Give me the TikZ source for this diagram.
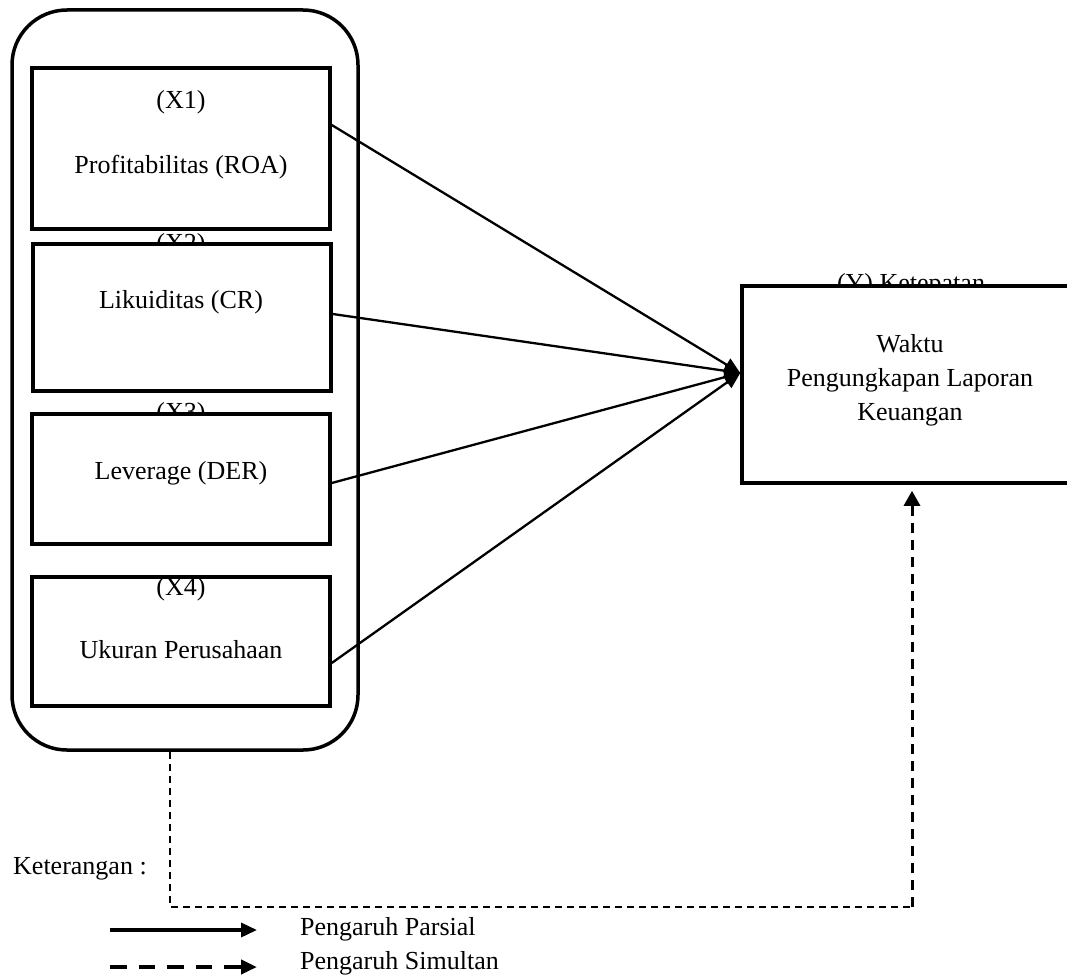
\documentclass[tikz,border=0pt]{standalone}
\usepackage{fontspec}
\setmainfont{Liberation Serif}
\usetikzlibrary{arrows.meta,calc}
\begin{document}
\begin{tikzpicture}[x=1pt,y=-1pt,
  box/.style={draw,line width=3.5pt,fill=white,inner sep=0pt},
  lbl/.style={inner sep=0pt,font=\fontsize{26}{35}\selectfont,align=center},
  partial/.style={line width=2.3pt,-{Triangle[length=16pt,width=14pt]}},
  simthin/.style={line width=1.5pt,dash pattern=on 7pt off 5pt},
  simthick/.style={line width=3pt,dash pattern=on 10pt off 7pt,-{Triangle[length=15pt,width=16pt]}}]
\useasboundingbox (0,0) rectangle (1067,974);
% outer group
\node[draw,line width=3.5pt,rounded corners=55pt,inner sep=0pt,minimum width=346pt,minimum height=740pt] (grp) at (185,380) {};
% labels hidden partly behind boxes
\node[lbl] (lx2) at (181,245) {(X2)};
\node[lbl] (lx3) at (181,414) {(X3)};
\node[lbl] (ly) at (911,285) {(Y) Ketepatan};
% boxes
\node[box,minimum width=298pt,minimum height=161pt] (x1) at (181,148.5) {};
\node[box,minimum width=298pt,minimum height=147pt] (x2) at (182,317.5) {};
\node[box,minimum width=298pt,minimum height=130pt] (x3) at (181,479) {};
\node[box,minimum width=298pt,minimum height=129pt] (x4) at (181,641.5) {};
\node[box,minimum width=336pt,minimum height=197pt] (yb) at (910,384.5) {};
% texts
\node[lbl] (lx1) at (181,102) {(X1)};
\node[lbl] (t1) at (181,167) {Profitabilitas (ROA)};
\node[lbl] (t2) at (181,302) {Likuiditas (CR)};
\node[lbl] (t3) at (181,473) {Leverage (DER)};
\node[lbl] (lx4) at (181,589) {(X4)};
\node[lbl] (t4) at (181,650) {Ukuran Perusahaan};
\node[lbl] (ty1) at (910,344) {Waktu};
\node[lbl] (ty2) at (910,380) {Pengungkapan Laporan};
\node[lbl] (ty3) at (910,415) {Keuangan};
% partial arrows
\coordinate (tip) at ([yshift=11.5pt]yb.west);
\draw[partial] ([yshift=23.5pt]x1.east) -- (tip);
\draw[partial] ([yshift=3.5pt]x2.east) -- (tip);
\draw[partial] ([yshift=-4pt]x3.east) -- (tip);
\draw[partial] ([yshift=-21.5pt]x4.east) -- (tip);
% simultaneous path
\coordinate (c1) at (170,907);
\coordinate (c2) at (912,907);
\draw[simthin] ([xshift=-15pt]grp.south) -- (c1) -- (c2);
\draw[simthick,shorten >=6pt] (c2) -- ([xshift=2pt]yb.south);
% legend
\node[lbl,anchor=west] (ket) at (13,869) {Keterangan :};
\coordinate (l1a) at (110,930);
\coordinate (l1b) at (257,930);
\coordinate (l2a) at (110,967);
\coordinate (l2b) at (257,967);
\draw[line width=3.5pt,-{Triangle[length=16pt,width=14pt]}] (l1a) -- (l1b);
\draw[line width=4.5pt,dash pattern=on 16.5pt off 12pt,-{Triangle[length=16pt,width=14pt]}] (l2a) -- (l2b);
\node[lbl,anchor=west] (lp) at (300,929) {Pengaruh Parsial};
\node[lbl,anchor=west] (ls) at (300,963) {Pengaruh Simultan};
\end{tikzpicture}
\end{document}
